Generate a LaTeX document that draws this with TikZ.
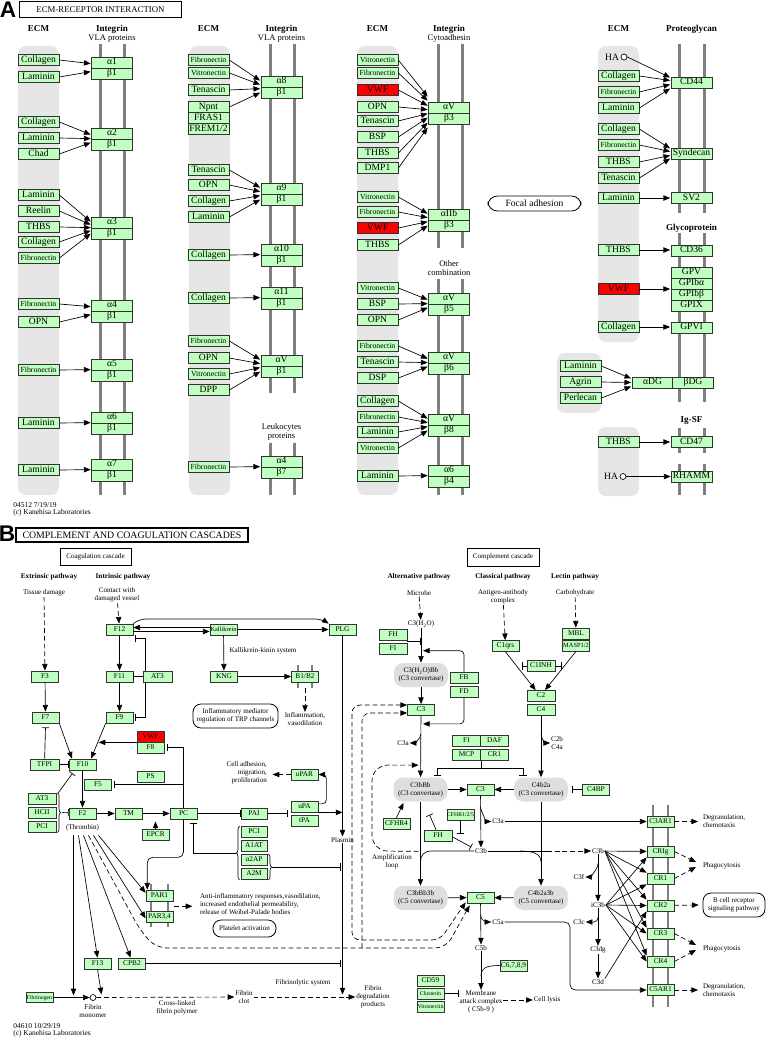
\documentclass[tikz,border=0pt]{standalone}
\usepackage{fontspec}
\setmainfont{Liberation Serif}
\newfontfamily\labelfont{Liberation Sans}
\usetikzlibrary{arrows.meta, positioning, calc, decorations.pathreplacing}
\definecolor{kGreen}{HTML}{BFFFBF}
\definecolor{kRed}{HTML}{FF0000}
\definecolor{kStrip}{HTML}{E6E6E6}
\definecolor{kMem}{HTML}{7F7F7F}
\definecolor{kCplx}{HTML}{DEDEDE}
\newcommand\kfA{\fontsize{7.2}{8}\selectfont}
\newcommand\kfS{\fontsize{5.8}{6}\selectfont}
\newcommand\kfB{\fontsize{5.5}{6}\selectfont}
\newcommand\kfSS{\fontsize{4.8}{5}\selectfont}
\newcommand\kfXS{\fontsize{4.3}{5}\selectfont}
\newcommand\kfT{\fontsize{5.3}{6}\selectfont}
\newcommand\kfH{\bfseries\fontsize{6.8}{7}\selectfont}
\newcommand\kfHB{\bfseries\fontsize{5.4}{6}\selectfont}
\tikzset{
  gene/.style={draw=black!80, line width=0.55pt, fill=kGreen, inner sep=0pt, minimum height=8.25pt},
  ecmbox/.style={gene, minimum width=30.75pt, font=\kfA, text height=4.9pt, text depth=1.4pt},
  intbox/.style={ecmbox},
  cbox/.style={gene, minimum width=20.25pt, font=\kfB, text height=3.8pt, text depth=1.1pt},
  nrm/.style={},
  shrt/.style={font=\kfS},
  hit/.style={fill=kRed},
  cplx/.style={fill=kCplx, rounded corners=7pt, minimum width=40.5pt, minimum height=18pt, inner sep=0pt, align=center, font=\kfT},
  mem/.style={kMem, line width=2.25pt},
  rbar/.style={kMem, line width=1.6pt},
  hdr/.style={font=\kfH, inner sep=0.5pt},
  hdrB/.style={font=\kfHB, inner sep=0.5pt},
  sub/.style={font=\fontsize{6.4}{6.2}\selectfont, inner sep=0.5pt, align=center},
  txt/.style={font=\kfT, inner sep=0.5pt, align=center},
  mapbox/.style={draw, line width=0.6pt, rounded corners=6pt, inner sep=0pt, align=center, font=\kfT},
  inh/.style={-{Bar[width=5.5pt]}},
  dact/.style={->, dash pattern=on 3.6pt off 2.2pt},
  brace/.style={decorate, decoration={brace, amplitude=2.5pt}},
}

\begin{document}
\begin{tikzpicture}[x=0.75pt, y=-0.75pt, line width=0.5pt,
    >={Triangle[length=5pt,width=4pt]}]
\useasboundingbox (0,0) rectangle (766,1039);

%% ---------------- A: ECM-receptor interaction
\node[font=\labelfont\bfseries\fontsize{17}{17}\selectfont, inner sep=0pt] (labA) at (8,9.5) {A};
\node[draw, line width=0.9pt, minimum width=122pt, minimum height=12pt, inner sep=0pt,
  font=\fontsize{6.6}{7}\selectfont] (ttlA) at (100.5,9.5) {ECM-RECEPTOR INTERACTION};

\foreach \x in {18,189,357}
  \fill[kStrip, rounded corners=6pt] (\x,46) rectangle ++(41,449);
\fill[kStrip, rounded corners=6pt] (598,46) rectangle (639,342);
\fill[kStrip, rounded corners=6pt] (557,353) rectangle (601,413);
\fill[kStrip, rounded corners=6pt] (598,427) rectangle (639,496);

\foreach \x in {100,124} \draw[mem] (\x,44) -- (\x,495);
\foreach \x in {270,294} {\draw[mem] (\x,44) -- (\x,393); \draw[mem] (\x,443) -- (\x,495);}
\foreach \x in {438,462} {\draw[mem] (\x,44) -- (\x,248); \draw[mem] (\x,279) -- (\x,495);}
\foreach \x in {679,704} {
  \draw[mem] (\x,44) -- (\x,213); \draw[mem] (\x,233) -- (\x,402);
  \draw[mem] (\x,428) -- (\x,453); \draw[mem] (\x,464) -- (\x,495);}

\foreach \x/\t [count=\i] in {38.5/ECM, 208.5/ECM, 377.5/ECM, 618.5/ECM,
    112/Integrin, 281.5/Integrin, 449/Integrin, 691.5/Proteoglycan}
  \node[hdr] (hd\i) at (\x,29) {\t};
\node[hdr] (hdGly) at (691.5,228) {Glycoprotein};
\node[hdr] (hdIg) at (691.5,420) {Ig-SF};
\node[sub] (vla1) at (112,38.5) {VLA proteins};
\node[sub] (vla2) at (281.5,38.5) {VLA proteins};
\node[sub] (cyto) at (449,38.5) {Cytoadhesin};
\node[sub] (other) at (449,268) {Other\\combination};
\node[sub] (leuko) at (281.5,432) {Leukocytes\\proteins};

% integrin pairs
\foreach \nm/\al/\be/\t in {vA/α1/β1/57, vB/α2/β1/128, vC/α3/β1/217, vD/α4/β1/300,
    vE/α5/β1/359, vF/α6/β1/412, vG/α7/β1/459}
  {\node[intbox] (\nm-a) at (112,\t+5.5) {\al}; \node[intbox] (\nm-b) at (112,\t+16.5) {\be};}
\foreach \nm/\al/\be/\t in {wA/α8/β1/76, wB/α9/β1/183, wC/α10/β1/244, wD/α11/β1/287,
    wE/αV/β1/355, wF/α4/β7/456}
  {\node[intbox] (\nm-a) at (281.5,\t+5.5) {\al}; \node[intbox] (\nm-b) at (281.5,\t+16.5) {\be};}
\foreach \nm/\al/\be/\t in {xA/αV/β3/102, xB/αIIb/β3/209, xC/αV/β5/293, xD/αV/β6/352,
    xE/αV/β8/414, xF/α6/β4/465}
  {\node[intbox] (\nm-a) at (449,\t+5.5) {\al}; \node[intbox] (\nm-b) at (449,\t+16.5) {\be};}

% ECM ligands -> integrins
\foreach \y/\txt/\st/\tg/\d in {60/Collagen/nrm/vA/-4, 77/Laminin/nrm/vA/4,
    122/Collagen/nrm/vB/-4, 138/Laminin/nrm/vB/0, 154/Chad/nrm/vB/4,
    195/Laminin/nrm/vC/-6, 211/Reelin/nrm/vC/-3, 227/THBS/nrm/vC/0, 242/Collagen/nrm/vC/3,
    258/Fibronectin/shrt/vC/6, 304/Fibronectin/shrt/vD/-4, 322/OPN/nrm/vD/4,
    370/Fibronectin/shrt/vE/0, 423/Laminin/nrm/vF/0, 470/Laminin/nrm/vG/0}
  {\node[ecmbox,\st] (a\y) at (38.5,\y) {\txt};
   \draw[->] (a\y.east) -- ($(\tg-b.north west)+(-0.5,\d)$);}
\foreach \y/\txt/\st/\tg/\d in {60/Fibronectin/shrt/wA/-6, 73/Vitronectin/shrt/wA/-2,
    90/Tenascin/nrm/wA/2, 107/Npnt/nrm/wA/6, 170/Tenascin/nrm/wB/-6, 185/OPN/nrm/wB/-2,
    201/Collagen/nrm/wB/2, 217/Laminin/nrm/wB/6, 255/Collagen/nrm/wC/0, 298/Collagen/nrm/wD/0,
    341/Fibronectin/shrt/wE/-6, 358/OPN/nrm/wE/-2, 374/Vitronectin/shrt/wE/2, 390/DPP/nrm/wE/6,
    467/Fibronectin/shrt/wF/0}
  {\node[ecmbox,\st] (b\y) at (208.5,\y) {\txt};
   \draw[->] (b\y.east) -- ($(\tg-b.north west)+(-0.5,\d)$);}
\node[ecmbox] (fras) at (208.5,118) {FRAS1};
\node[ecmbox] (frem) at (208.5,129) {FREM1/2};
\foreach \y/\txt/\st/\tg/\d in {60/Vitronectin/shrt/xA/-16, 73/Fibronectin/shrt/xA/-12,
    90/VWF/hit/xA/-7, 107/OPN/nrm/xA/-3, 121/Tenascin/nrm/xA/1, 137/BSP/nrm/xA/5,
    153/THBS/nrm/xA/10, 168/DMP1/nrm/xA/15,
    197/Vitronectin/shrt/xB/-6, 212/Fibronectin/shrt/xB/-2, 228/VWF/hit/xB/2, 245/THBS/nrm/xB/6,
    288/Vitronectin/shrt/xC/-4, 304/BSP/nrm/xC/0, 320/OPN/nrm/xC/4,
    346/Fibronectin/shrt/xD/-4, 362/Tenascin/nrm/xD/0, 378/DSP/nrm/xD/4,
    401/Collagen/nrm/xE/-6, 417/Fibronectin/shrt/xE/-2, 432/Laminin/nrm/xE/2,
    448/Vitronectin/shrt/xE/6, 476/Laminin/nrm/xF/0}
  {\node[ecmbox,\st] (c\y) at (377.5,\y) {\txt};
   \draw[->] (c\y.east) -- ($(\tg-b.north west)+(-0.5,\d)$);}

\node[mapbox, minimum width=69.75pt, minimum height=11.25pt, rounded corners=7pt, font=\kfA]
  (focal) at (534.5,203.5) {Focal adhesion};

% proteoglycans, glycoproteins, Ig-SF
\foreach \nm/\y/\txt in {CD44/82.5/CD44, Synd/153.5/Syndecan, SV2/198/SV2, CD36/250.5/CD36,
    GPV/272.5/GPV, GPIba/283.5/GPIbα, GPIbb/294.5/GPIbβ, GPIX/305.5/GPIX, GPVI/327.5/GPVI,
    CD47/442/CD47, RHAMM/476.5/RHAMM}
  \node[ecmbox] (\nm) at (691.5,\y) {\txt};
\node[ecmbox] (aDG) at (652.5,382.5) {αDG};
\node[ecmbox] (bDG) at (693,382.5) {βDG};

\node[draw, circle, minimum size=4.5pt, inner sep=0pt, fill=white] (HAa) at (624,57) {};
\node[font=\kfA, anchor=east, inner sep=1pt] (HAat) at (HAa.west) {HA};
\draw[->] (HAa.east) -- ($(CD44.west)+(-0.5,-5)$);
\foreach \y/\txt/\st/\tg/\d in {76/Collagen/nrm/CD44/-2, 92/Fibronectin/shrt/CD44/2,
    108/Laminin/nrm/CD44/6, 129/Collagen/nrm/Synd/-5, 145/Fibronectin/shrt/Synd/-2,
    162/THBS/nrm/Synd/2, 178/Tenascin/nrm/Synd/5, 198/Laminin/nrm/SV2/0,
    250/THBS/nrm/CD36/-0.5, 289/VWF/hit/GPIba/5.5, 327/Collagen/nrm/GPVI/-0.5, 442/THBS/nrm/CD47/0}
  {\node[ecmbox,\st] (d\y) at (618.5,\y) {\txt};
   \draw[->] (d\y.east) -- ($(\tg.west)+(-0.5,\d)$);}
\foreach \nm/\y/\txt/\d in {dLam/366/Laminin/-4, dAgr/382/Agrin/0, dPerl/398/Perlecan/4}
  {\node[ecmbox] (\nm) at (580.5,\y) {\txt};
   \draw[->] (\nm.east) -- ($(aDG.west)+(-0.5,\d)$);}
\node[draw, circle, minimum size=4.5pt, inner sep=0pt, fill=white] (HAb) at (623,476.5) {};
\node[font=\kfA, anchor=east, inner sep=1pt] (HAbt) at (HAb.west) {HA};
\draw[->] (HAb) -- (RHAMM);

\node[font=\fontsize{5.6}{5.3}\selectfont, align=left, anchor=north west, inner sep=0pt]
  (footA) at (13,502) {04512 7/19/19\\(c) Kanehisa Laboratories};

%% ---------------- B: complement and coagulation cascades
\node[font=\labelfont\bfseries\fontsize{17}{17}\selectfont, inner sep=0pt] (labB) at (7,534) {B};
\node[draw, line width=0.9pt, minimum width=174pt, minimum height=10.5pt, inner sep=0pt,
  font=\fontsize{7.4}{7}\selectfont] (ttlB) at (132,535) {COMPLEMENT AND COAGULATION CASCADES};

\node[draw, line width=0.5pt, minimum width=53.25pt, minimum height=12.75pt, inner sep=0pt, font=\kfT]
  (coagC) at (95.5,556.5) {Coagulation cascade};
\node[hdrB] (extr) at (49,577) {Extrinsic pathway};
\node[hdrB] (intr) at (123,577) {Intrinsic pathway};
\node[txt] (tissue) at (44,593) {Tissue damage};
\node[txt] (contact) at (117,595) {Contact with\\damaged vessel};

% receptor bars
\foreach \x in {298,312} \draw[rbar] (\x,665) -- (\x,688);
\foreach \x in {151,168} \draw[rbar] (\x,884) -- (\x,927);
\foreach \x in {653,668} \draw[rbar, line width=2pt] (\x,805) -- (\x,1007);

\node[cbox] (F12) at (119.5,629.5) {F12};
\node[cbox, font=\kfSS] (Kal) at (223.5,629.5) {Kallikrein};
\node[cbox] (PLG) at (342.5,629.5) {PLG};
\node[cbox] (F3) at (45,676.5) {F3};
\node[cbox] (F11) at (119.5,676.5) {F11};
\node[cbox, minimum width=21.75pt] (AT3a) at (157.5,676.5) {AT3};
\node[cbox] (KNG) at (224,676.5) {KNG};
\node[cbox] (B1B2) at (305,676.5) {B1/B2};
\node[cbox] (F7) at (45.5,717.5) {F7};
\node[cbox] (F9) at (119.5,717.5) {F9};
\node[cbox, hit] (VWFb) at (150.5,736.5) {VWF};
\node[cbox] (F8) at (150.5,747.5) {F8};
\node[cbox, minimum width=21.75pt] (TFPI) at (44.5,764.5) {TFPI};
\node[cbox] (F10) at (82.5,764.5) {F10};
\node[cbox] (PS) at (150.5,777) {PS};
\node[cbox] (F5) at (98,784.5) {F5};
\node[cbox] (uPAR) at (304.5,774.5) {uPAR};
\node[cbox, minimum width=21pt] (AT3b) at (42,798.5) {AT3};
\node[cbox, minimum width=21pt] (HCII) at (42,812.5) {HCII};
\node[cbox, minimum width=21pt] (PCIa) at (42,826.5) {PCI};
\node[cbox] (F2) at (82.5,813.5) {F2};
\node[cbox] (TM) at (128.5,813.5) {TM};
\node[cbox] (EPCR) at (155.5,834.5) {EPCR};
\node[cbox] (PC) at (183.5,813.5) {PC};
\node[cbox, minimum width=19.5pt] (PAI) at (254,813.5) {PAI};
\node[cbox] (uPA) at (304.5,806.5) {uPA};
\node[cbox] (tPA) at (304.5,820.5) {tPA};
\node[cbox, minimum width=19.5pt] (PCIb) at (254,832) {PCI};
\node[cbox, minimum width=19.5pt] (A1AT) at (254,846) {A1AT};
\node[cbox, minimum width=19.5pt] (a2AP) at (254,860) {α2AP};
\node[cbox, minimum width=19.5pt] (A2M) at (254,874) {A2M};
\node[cbox] (PAR1) at (159.5,895.5) {PAR1};
\node[cbox] (PAR34) at (159.5,917) {PAR3,4};
\node[cbox] (F13) at (97.5,963.5) {F13};
\node[cbox] (CPB2) at (132,963.5) {CPB2};
\node[cbox, font=\kfXS, minimum height=7pt] (Fbg) at (39.5,997.5) {Fibrinogen};

\node[txt] (kks) at (263,651) {Kallikrein-kinin system};
\node[txt] (infl) at (305,719.5) {Inflammation,\\vasodilation};
\node[mapbox, minimum width=63.75pt, minimum height=18pt] (trp) at (235.5,716)
  {Inflammatory mediator\\regulation of TRP channels};
\node[txt, align=right, anchor=east] (cadh) at (268,773) {Cell adhesion,\\migration,\\proliferation};
\node[txt] (thr) at (82.5,827.5) {(Thrombin)};
\node[txt] (plasmin) at (342.5,840) {Plasmin};
\node[txt, align=left, anchor=west] (antiinf) at (199,904)
  {Anti-inflammatory responses,vasodilation,\\increased endothelial permeability,\\release of Weibel-Palade bodies};
\node[mapbox, minimum width=47.25pt, minimum height=12.75pt] (platelet) at (244.5,928.5) {Platelet activation};
\node[txt] (fibsys) at (303,983) {Fibrinolytic system};
\node[draw, circle, minimum size=4.5pt, inner sep=0pt, fill=white] (fmono) at (93,997.5) {};
\node[txt] (fmonot) at (93,1011.5) {Fibrin\\monomer};
\node[txt] (xlink) at (177,1007.5) {Cross-linked\\fibrin polymer};
\node[txt] (fclot) at (244,997) {Fibrin\\clot};
\node[txt] (fdeg) at (373,997) {Fibrin\\degradation\\products};
\node[font=\fontsize{5.6}{5.3}\selectfont, align=left, anchor=north west, inner sep=0pt]
  (footB) at (13,1023) {04610 10/29/19\\(c) Kanehisa Laboratories};

% coagulation connectors
\draw[dact] (tissue) -- (F3);
\draw[dact] (contact) -- (F12);
\draw[->, rounded corners=5] (F12.north east) -- (139,619) -- (322,619) -- (PLG.north west);
\draw[->] ([yshift=1.5pt]Kal.west) -- ([yshift=1.5pt]F12.east);
\draw[->] ([yshift=-1.5pt]F12.east) -- ([yshift=-1.5pt]Kal.west);
\draw[->] (Kal) -- (PLG);
\draw[->] (Kal) -- (KNG);
\draw[->] (KNG) -- (B1B2);
\draw[dact] ([yshift=-4.5pt]B1B2.south) -- (infl);
\draw[->] (F12) -- (F11);
\draw[->] (F11) -- (F9);
\draw[->] (F3) -- (F7);
\draw[inh] (AT3a) -- (F11);
\draw[inh] ([xshift=2.25pt]AT3a.north west) |- ($(F12.south east)+(2,3)$);
\draw[inh] ([xshift=2.25pt]AT3a.south west) |- ($(F9.east)+(2,0)$);
\draw[->] (F7.south east) -- ([xshift=2.5pt]F10.north west);
\draw[->] (F9.south west) -- ([xshift=-4pt]F10.north east);
\draw[->] (VWFb.south west) -- ++(-38,0);
\draw[inh] (TFPI) -- ($(F7.south)+(0,4)$);
\draw[inh] (TFPI) -- (F10);
\draw[inh] (PC.north) |- ($(F8.east)+(2.5,0)$);
\draw[inh] (PC.north) |- ($(F5.east)+(2.5,0)$);
\draw[->, rounded corners=4] (PC.south) -- ++(0,38) -| ([xshift=1.2pt]PAR1.north west);
\draw[->] (F10) -- (F2);
\draw[brace] ([xshift=0.75pt]AT3b.north east) -- ([xshift=0.75pt]PCIa.south east);
\draw[inh] ($(HCII.east)+(6,0)$) -- (F2);
\draw[inh] ([xshift=1.5pt]AT3b.north east) -- ($(F10.south)+(-10,3)$);
\draw[->] (F2) -- (TM);
\draw[->] (TM) -- (PC);
\draw[->] (EPCR) -- ++(0,-13);
\draw[inh] (PC) -- (PAI);
\coordinate (paij) at (PAI.east -| uPA.west);
\draw[inh] (PAI.east) -- ($(paij)+(-2.5,0)$);
\draw[->] (uPA.south east) -- (uPA.south east -| PLG.south);
\draw[->, rounded corners=3] ([yshift=2pt]uPA.east) -| ($(uPAR.east)+(8,0)$) -- (uPAR.east);
\draw[dact] (uPAR) -- ($(uPAR.west)+(-18,0)$);
\draw[->] (PLG) -- (plasmin);
\draw[->] (plasmin) -- ($(plasmin.south)+(0,151)$);
\draw[brace] ([xshift=-0.75pt]A2M.south west) -- ([xshift=-0.75pt]PCIb.north west);
\draw[inh] ($(PCIb.north west)!0.5!(A2M.south west)+(-5,0)$) -| ($(PC.south)+(10,4)$);
\draw[brace] ([xshift=0.75pt]a2AP.north east) -- ([xshift=0.75pt]A2M.south east);
\coordinate (a2j) at ($(a2AP.north east)!0.5!(A2M.south east)+(5,0)$);
\coordinate (a2k) at (a2j -| PLG.south);
\draw[inh] (a2j) -- ($(a2k)+(-2,0)$);
\coordinate (cpbk) at (CPB2 -| PLG.south);
\draw[inh] (CPB2) -- ($(cpbk)+(-2,0)$);
\coordinate (thr0) at ($(F2.south)+(0,16)$);
\draw[->] ($(thr0)+(-9,0)$) -- ++(0,160);
\draw[->] ($(thr0)+(-4,0)$) -- (F13.north);
\draw[->] ($(thr0)+(1,0)$) -- ([xshift=-1pt]CPB2.north);
\draw[->] ($(thr0)+(11,0)$) -- ([yshift=-1pt]PAR34.west);
\draw[->] ($(thr0)+(16,0)$) -- ([yshift=2pt]PAR1.west);
\draw[->] (F13.south) -- ++(4,25);
\draw[->] (Fbg) -- (fmono);
\draw[dact] (fmono) -- (fclot);
\draw[dact] (fclot) -- (fdeg);
\draw[dact] ($(PAR1.south east)!0.5!(PAR34.north east)+(1,0)$) -- ++(18,0);

%% complement cascade
\node[draw, line width=0.5pt, minimum width=54pt, minimum height=13.5pt, inner sep=0pt, font=\kfT]
  (compC) at (503,557) {Complement cascade};
\node[hdrB] (altp) at (419,577) {Alternative pathway};
\node[hdrB] (clasp) at (503,577) {Classical pathway};
\node[hdrB] (lectp) at (575,577) {Lectin pathway};
\node[txt] (microbe) at (419,593) {Microbe};
\node[txt] (agab) at (503,597) {Antigen-antibody\\complex};
\node[txt] (carbo) at (575,593) {Carbohydrate};
\node[txt] (c3h2o) at (421,624) {C3(H\textsubscript{2}O)};
\node[cbox, minimum width=21pt] (FH) at (393,634.5) {FH};
\node[cbox, minimum width=21pt] (FIa) at (393,648.5) {FI};
\node[cplx] (C3H2OBb) at (421,675) {C3(H\textsubscript{2}O)Bb\\(C3 convertase)};
\node[cbox, minimum width=21pt] (FB) at (464,677.5) {FB};
\node[cbox, minimum width=21pt] (FD) at (464,692) {FD};
\node[cbox] (C3up) at (421,710) {C3};
\node[cbox] (C1qrs) at (505.5,646) {C1qrs};
\node[cbox] (MBL) at (576,633.5) {MBL};
\node[cbox, font=\kfSS] (MASP) at (576,645.5) {MASP1/2};
\node[cbox, minimum width=21pt] (C1INH) at (541,666) {C1INH};
\node[cbox, minimum width=21pt] (C2) at (541,696) {C2};
\node[cbox, minimum width=21pt] (C4) at (541,710) {C4};
\node[cbox, minimum width=21pt] (FIb) at (466.5,741) {FI};
\node[cbox, minimum width=21pt] (DAF) at (494.5,741) {DAF};
\node[cbox, minimum width=21pt] (MCP) at (466.5,755) {MCP};
\node[cbox, minimum width=21pt] (CR1b) at (494.5,755) {CR1};
\node[txt] (c3aA) at (403,743) {C3a};
\node[txt] (c2b) at (557,743) {C2b\\C4a};
\node[cplx] (C3bBb) at (420.5,789.5) {C3bBb\\(C3 convertase)};
\node[cbox] (C3mid) at (480.5,789.5) {C3};
\node[cplx] (C4b2a) at (541,789.5) {C4b2a\\(C3 convertase)};
\node[cbox] (C4BP) at (596,789.5) {C4BP};
\node[cbox, font=\kfXS] (CFHR) at (460.5,814.5) {CFHR1/2/5};
\node[cbox] (CFHR4) at (396.5,823.5) {CFHR4};
\node[cbox, minimum width=21pt] (FHb) at (438,835.5) {FH};
\node[txt] (c3aB) at (498,821.5) {C3a};
\node[txt] (c3bT) at (481,851) {C3b};
\node[txt] (amp) at (392,862) {Amplification\\loop};
\node[cplx] (C3bBb3b) at (420.5,898) {C3bBb3b\\(C5 convertase)};
\node[cbox] (C5) at (480.5,897.5) {C5};
\node[cplx] (C4b2a3b) at (541,898) {C4b2a3b\\(C5 convertase)};
\node[txt] (c5aT) at (498,922) {C5a};
\node[txt] (c5bT) at (481,948) {C5b};
\node[cbox] (C6789) at (513.5,965.5) {C6,7,8,9};
\node[txt] (mac) at (481,1002) {Membrane\\attack complex\\( C5b-9 )};
\node[txt] (lysis) at (547,1000) {Cell lysis};
\node[cbox] (CD59) at (430.5,980.5) {CD59};
\node[cbox, font=\kfXS] (Clust) at (430.5,993.5) {Clusterin};
\node[cbox, font=\kfXS] (Vitr) at (430.5,1006.5) {Vitronectin};
\node[txt] (c3bR) at (598,851) {C3b};
\node[txt] (c3f) at (579,877) {C3f};
\node[txt] (ic3b) at (598,905) {iC3b};
\node[txt] (c3c) at (579,922) {C3c};
\node[txt] (c3dg) at (598,950) {C3dg};
\node[txt] (c3d) at (598,982) {C3d};
\foreach \nm/\y/\txt in {C3AR1/821.5/C3AR1, CRIg/851.5/CRIg, CR1/878.5/CR1, CR2/905.5/CR2,
    CR3/933.5/CR3, CR4/961.5/CR4, C5AR1/990/C5AR1}
  \node[cbox] (\nm) at (660.5,\y) {\txt};
\node[txt, align=left, anchor=west] (degr1) at (702,821.5) {Degranulation,\\chemotaxis};
\node[txt, align=left, anchor=west] (degr2) at (702,990) {Degranulation,\\chemotaxis};
\node[txt, anchor=west] (phag1) at (702,866) {Phagocytosis};
\node[txt, anchor=west] (phag2) at (702,949) {Phagocytosis};
\node[mapbox, minimum width=46.5pt, minimum height=18pt] (bcr) at (734,905) {B cell receptor\\signaling pathway};

% complement connectors
\draw[dact] (microbe) -- (c3h2o);
\draw[->] (c3h2o) -- (C3H2OBb);
\coordinate (fhj) at ($(FH.south east)!0.5!(FIa.north east)$);
\draw[inh] (fhj) -- (fhj -| c3h2o.south);
\draw[->, rounded corners=3] (FB.north) |- ($(C3H2OBb.north)+(2,-12)$);
\draw[->, rounded corners=3] (FD.south) |- ($(C3up.south)+(2,8)$);
\draw[->] (C3H2OBb) -- (C3up);
\draw[->] (C3up) -- (C3bBb);
\draw[->] ($(C3up.south)+(0,18)$) .. controls +(0,5) and +(4,0) .. (c3aA.east);
\coordinate (jOut) at (352,940);
\coordinate (jIn) at (362,948);
\draw[dact, rounded corners=8] ($(thr0)+(6,0)$) -- (140,930) -- (156,948) -- (446,948)
  -- ($(C5.south west)+(3,2)$);
\draw[dact, rounded corners=6] (jIn) -- (362,713) -- ([yshift=-2.25pt]C3up.west);
\draw[dash pattern=on 3.6pt off 2.2pt, <->, rounded corners=6] ([yshift=3.75pt]C3up.west) -| (jOut)
  -- (440,940) -- ($(C5.south west)+(-1,-1)$);
\draw[dact] (agab) -- (C1qrs);
\draw[dact] (carbo) -- (MBL);
\draw[->] (C1qrs.south) -- ([xshift=-4pt]C2.north);
\draw[->] (MASP.south) -- ([xshift=3pt]C2.north);
\draw[inh] (C1INH.west) -- ++(-5,0);
\draw[inh] (C1INH.east) -- ++(6,0);
\draw[->] (C4) -- (C4b2a);
\draw[->] ($(C4.south)+(0,18)$) .. controls +(0,5) and +(-4,0) .. (c2b.west);
\draw[inh] (MCP.south east) -- ++(0,7) -| ($(C3bBb.north)+(17,-2)$);
\draw[inh] (MCP.south east) -- ++(0,7) -| ($(C4b2a.north)+(-18,-2)$);
\draw[->] (C3bBb) -- (C3mid);
\draw[->] (C4b2a) -- (C3mid);
\draw[inh] (C4BP) -- ($(C4b2a.east)+(4,0)$);
\draw[->] (C3mid) -- (c3bT);
\draw[->] ($(C3mid.south)+(0,11)$) .. controls +(0,5) and +(-4,0) .. (c3aB.west);
\draw[->] (c3aB) -- (C3AR1);
\draw[->] (CFHR4.north) -- ($(C3bBb.south)+(-17,1)$);
\draw[inh] ([xshift=-1.5pt]FHb.north) -- ($(C3bBb.south)+(9,13)$);
\draw[inh] ([yshift=-1pt]FHb.east) -- ($(c3bT.west)+(-3,-4)$);
\draw[inh] (CFHR.south) -- ++(0,13);
\draw (c3bT.west) -- (432,851) .. controls (424,851) and (420.5,855) .. (420.5,862);
\draw[dact, rounded corners=12] ($(C3bBb.south)+(-2,49.5)$) -- (372,851) -- (372,765)
  -- ($(C3bBb.north)+(-2,-12)$);
\draw (c3bT.east) -- (547,851);
\draw[dact] (547,851) -- (c3bR.west);
\draw (520,851) .. controls (534,851) and (541,854) .. (541,862);
\draw[->] (C3bBb) -- (C3bBb3b);
\draw[->] (C4b2a) -- (C4b2a3b);
\draw[->] (C3bBb3b) -- (C5);
\draw[->] (C4b2a3b) -- (C5);
\draw[->] (C5) -- (c5bT);
\draw[->] ($(C5.south)+(0,12)$) .. controls +(0,5) and +(-4,0) .. (c5aT.west);
\draw[->, rounded corners=4] (c5aT.east) -- (570,922) |- (C5AR1.west);
\draw[->] (c5bT) -- (mac);
\draw (C6789.west) .. controls (486,965.5) and (481,968) .. (481,976);
\draw[dact] (mac.east |- lysis.west) -- (lysis.west);
\draw[inh] (Clust.east) -- (Clust.east -| mac.west);
\draw[->] (c3bR) -- (CRIg);
\foreach \r in {CR1,CR2,CR3,CR4} \draw[->] (c3bR.east) -- (\r.north west);
\draw[->] (c3bR) -- (ic3b);
\draw[->] ($(c3bR.south)+(0,9)$) .. controls +(0,6) and +(4,0) .. (c3f.east);
\draw[->] (ic3b.east) -- (CRIg.south west);
\draw[->] (ic3b.east) -- (CR1.south west);
\foreach \r in {CR2,CR3,CR4} \draw[->] (ic3b.east) -- (\r.west);
\draw[->] (ic3b) -- (c3dg);
\draw[->] ($(ic3b.south)+(0,9)$) .. controls +(0,6) and +(4,0) .. (c3c.east);
\draw[->] (c3dg) -- (c3d);
\draw[->] (c3d.north east) -- (CR2.south west);
\draw[dact] (C3AR1) -- ($(degr1.west)+(-4,0)$);
\draw[dact] (C5AR1) -- ($(degr2.west)+(-4,0)$);
\draw[dact] (CRIg.east) -- ($(phag1.west)+(-6,-4)$);
\draw[dact] (CR1.east) -- ($(phag1.west)+(-6,1)$);
\draw[dact] (CR2) -- ($(bcr.west)+(-4,0)$);
\draw[dact] (CR3.east) -- ($(phag2.west)+(-6,-4)$);
\draw[dact] (CR4.east) -- ($(phag2.west)+(-6,1)$);
\end{tikzpicture}
\end{document}
